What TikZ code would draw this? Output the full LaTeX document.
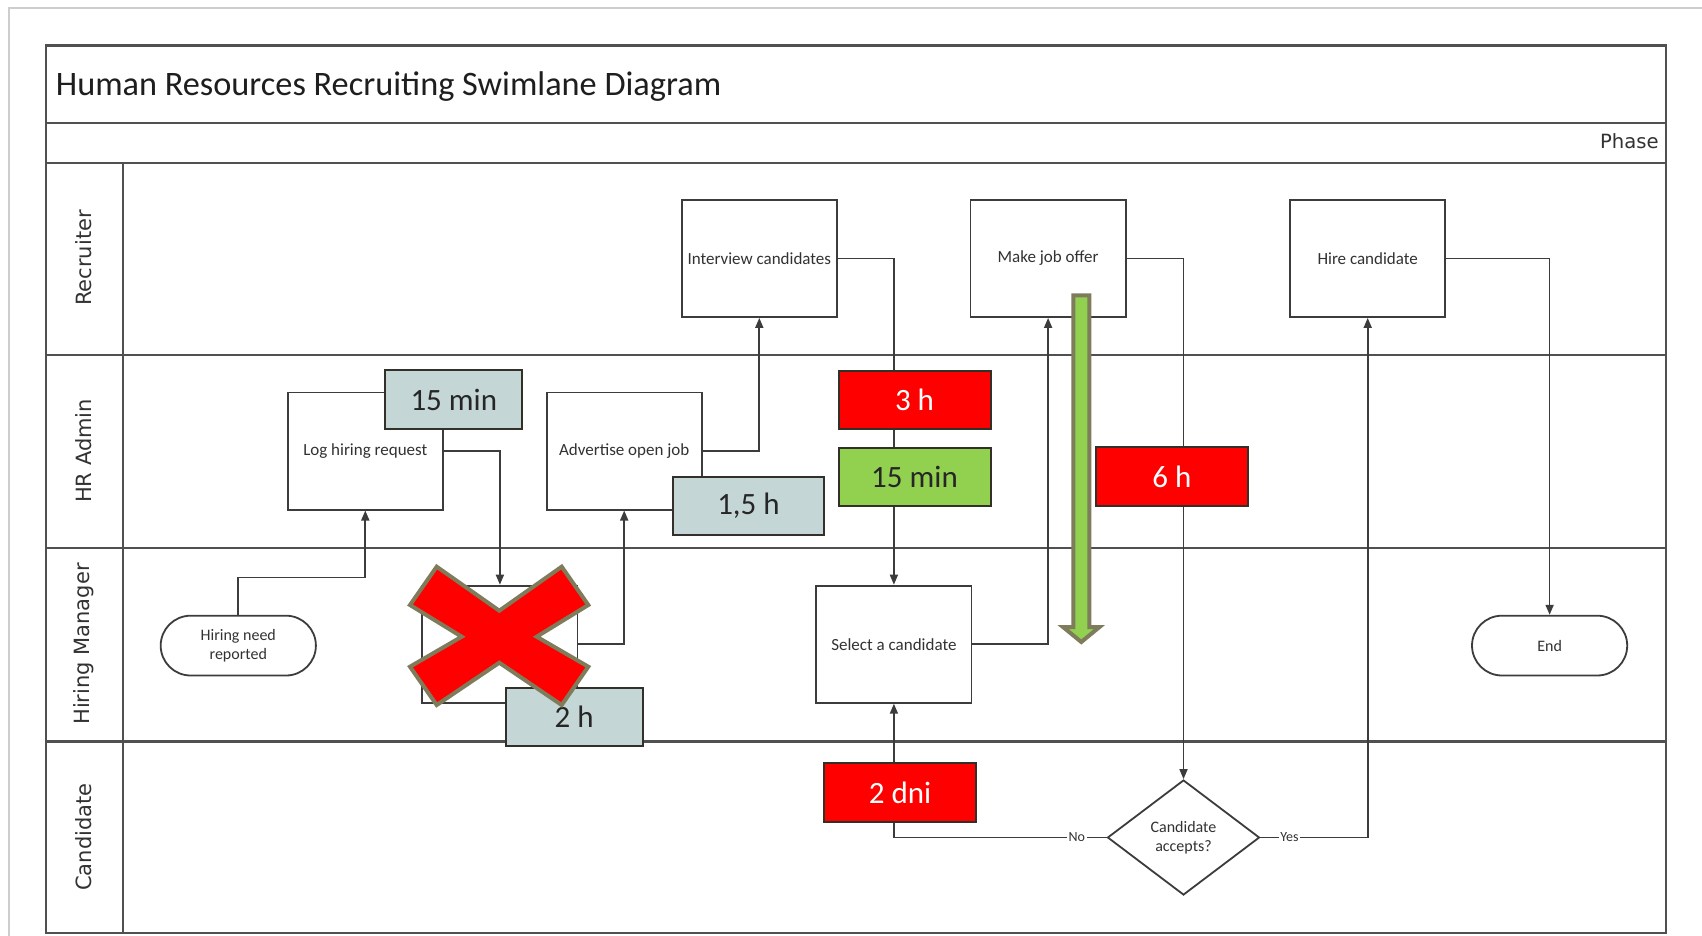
\documentclass[tikz,border=0pt]{standalone}
\usepackage{fontspec}
\setmainfont{Carlito}
\newfontfamily\lanefont{DejaVu Sans}
\usetikzlibrary{arrows.meta,shapes.geometric,shapes.misc}
\definecolor{framec}{RGB}{80,80,80}
\definecolor{edgec}{RGB}{60,60,60}
\definecolor{txtc}{RGB}{50,50,50}
\definecolor{tgray}{RGB}{196,215,214}
\definecolor{tred}{RGB}{255,0,0}
\definecolor{tgreen}{RGB}{146,208,80}
\definecolor{olivec}{RGB}{127,124,92}
\definecolor{tborder}{RGB}{50,48,40}
\definecolor{outerc}{RGB}{205,205,205}
\tikzset{
  framel/.style={draw=framec, line width=1.1pt},
  proc/.style={draw=edgec, line width=0.9pt, rectangle, minimum width=77.6pt, minimum height=58.6pt, inner sep=0pt, align=center, text=txtc, font=\fontsize{8.5}{10}\selectfont},
  term/.style={draw=edgec, line width=0.9pt, rounded rectangle, minimum width=77.6pt, minimum height=29.9pt, inner sep=0pt, align=center, text=txtc, font=\fontsize{8}{9.5}\selectfont},
  decision/.style={draw=edgec, line width=0.9pt, diamond, minimum width=76pt, minimum height=57.5pt, inner sep=0pt, align=center, text=txtc, font=\fontsize{8}{9.5}\selectfont},
  tbox/.style={draw=tborder, line width=1pt, rectangle, minimum height=29.3pt, inner sep=0pt, font=\fontsize{15.5}{18}\selectfont},
  tgraybox/.style={tbox, fill=tgray, text={rgb,255:red,38;green,38;blue,38}, minimum width=68.4pt},
  tredbox/.style={tbox, fill=tred, text=white, minimum width=76pt},
  tgreenbox/.style={tbox, fill=tgreen, text={rgb,255:red,38;green,38;blue,38}, minimum width=76pt},
  lane/.style={rotate=90, text=txtc, font=\lanefont\fontsize{10.5}{12}\selectfont},
  arr/.style={draw=edgec, line width=0.85pt, -{Triangle[length=5pt,width=4pt]}},
  yn/.style={fill=white, inner sep=0.8pt, text=txtc, font=\fontsize{7}{8}\selectfont}
}
\begin{document}
\begin{tikzpicture}[x=0.5pt,y=-0.5pt]
\useasboundingbox (0,0) rectangle (1702,936);
\fill[white] (0,0) rectangle (1702,936);
% outer slide frame
\draw[outerc, line width=1pt] (9,936) -- (9,8) -- (1702,8);
% swimlane frame
\draw[framel] (45.6,45.6) rectangle (1666.2,933);
\draw[framel] (45.6,122.7) -- (1666.2,122.7);
\draw[framel] (45.6,162.8) -- (1666.2,162.8);
\draw[framel] (122.7,162.8) -- (122.7,933);
\draw[framel] (45.6,355) -- (1666.2,355);
\draw[framel] (45.6,548) -- (1666.2,548);
\draw[framel] (45.6,741.5) -- (1666.2,741.5);
% title and phase
\node[anchor=base west, inner sep=0pt, text={rgb,255:red,30;green,30;blue,30}, font=\fontsize{17.15}{20}\selectfont] (title) at (55.5,95.5) {Human Resources Recruiting Swimlane Diagram};
\node[anchor=east, inner sep=0pt, text=txtc, font=\lanefont\fontsize{9.8}{12}\selectfont] (phase) at (1659,141.5) {Phase};
% lane labels
\node[lane] (lrec) at (84,258) {Recruiter};
\node[lane] (lhr) at (84,451) {HR Admin};
\node[lane] (lhm) at (84,644) {Hiring Manager};
\node[lane] (lcand) at (84,837) {Candidate};
% process nodes
\node[proc] (interview) at (759.3,258.4) {Interview candidates};
\node[proc] (offer) at (1048.1,258.4) {Make job offer};
\node[proc] (hire) at (1367.7,258.4) {Hire candidate};
\node[proc] (log) at (365.3,451) {Log hiring request};
\node[proc] (advert) at (624.2,451) {Advertise open job};
\node[proc] (crossed) at (499.9,644.2) {};
\node[proc] (select) at (893.9,644.2) {Select a candidate};
\node[term] (need) at (238.3,645.6) {Hiring need\\reported};
\node[term] (end) at (1549.6,645.6) {End};
\node[decision] (accept) at (1183.5,837.5) {Candidate\\accepts?};
% connectors
\draw[arr] (need.north) -- (need.north |- 0,577.5) -- (log.south |- 0,577.5) -- (log.south);
\draw[arr] (log.east) -| (crossed.north);
\draw[arr] (crossed.east) -| (advert.south);
\draw[arr] (advert.east) -| (interview.south);
\draw[arr] (interview.east) -| (select.north);
\draw[arr] (select.east) -| (offer.south);
\draw[arr] (offer.east) -| (accept.north);
\draw[arr] (accept.west) -| node[yn, pos=0.07] {No} (select.south);
\draw[arr] (accept.east) -| node[yn, pos=0.135] {Yes} (hire.south);
\draw[arr] (hire.east) -| (end.north);
% time boxes
\node[tgraybox] (t15a) at (453.8,399.5) {15 min};
\node[tgraybox, minimum width=75.5pt] (t15h) at (748.5,505.9) {1,5 h};
\node[tgraybox] (t2h) at (574.2,717) {2 h};
\node[tredbox] (t3h) at (914.5,399.8) {3 h};
\node[tgreenbox] (t15g) at (914.5,477) {15 min};
\node[tredbox] (t6h) at (1171.8,476.4) {6 h};
\node[tredbox] (t2d) at (900,792.6) {2 dni};
% red cross
\draw[olivec, line width=2pt, fill=tred, line join=miter]
  (436.7,566.7) -- (499.3,610.7) -- (561.7,566.7) -- (588.3,605) -- (536.7,636.7)
  -- (588.3,666.7) -- (561.7,705) -- (499.3,662.7) -- (436.7,705) -- (410,666.7)
  -- (461.7,636.7) -- (410,605) -- cycle;
% green arrow
\draw[olivec, line width=2pt, fill=tgreen, line join=miter]
  (1073.4,295.3) -- (1089.3,295.3) -- (1089.3,627) -- (1099.5,627) -- (1081.3,642)
  -- (1063,627) -- (1073.4,627) -- cycle;
\end{tikzpicture}
\end{document}
